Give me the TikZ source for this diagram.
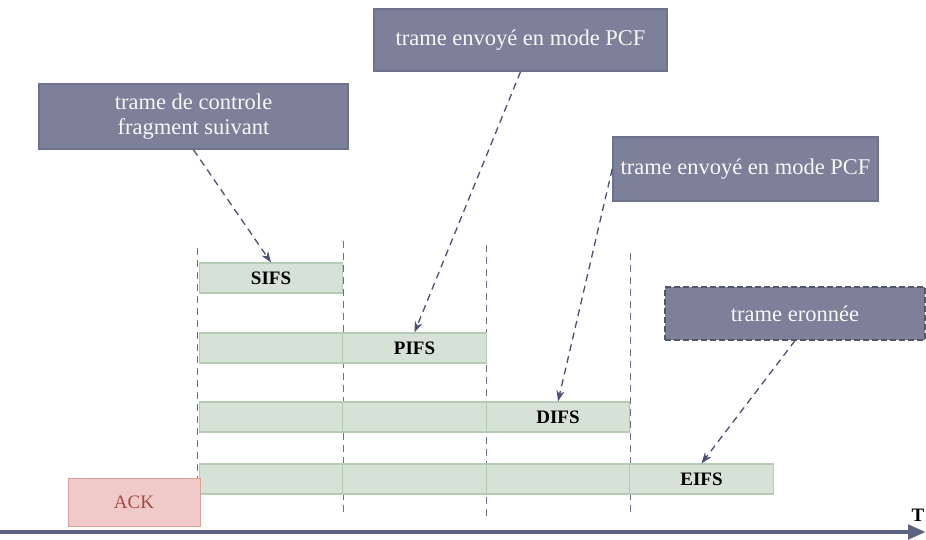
\documentclass[tikz,border=0pt]{standalone}
\usepackage{fontspec}
\setmainfont{Liberation Serif}
\usetikzlibrary{arrows.meta}

\definecolor{slateA}{HTML}{7C8098}
\definecolor{slateB}{HTML}{6E728C}
\definecolor{slateLine}{HTML}{4B5172}
\definecolor{greenA}{HTML}{D6E2D6}
\definecolor{greenLine}{HTML}{B4CCB3}
\definecolor{ackFill}{HTML}{EFCAC8}
\definecolor{ackEdge}{HTML}{DDA09A}
\definecolor{ackText}{HTML}{A14B40}
\definecolor{gridLine}{HTML}{6E7183}

\tikzset{
  note/.style={rectangle, inner sep=0pt, fill=slateA,
    draw=slateB, line width=1.6pt,
    text=white!94!slateA, align=center,
    font=\fontsize{22.5}{25}\selectfont},
  ifsbar/.style={rectangle, inner sep=0pt, minimum width=143.5pt, minimum height=30pt,
    fill=greenA, draw=greenLine, line width=1.2pt,
    font=\bfseries\fontsize{19}{21}\selectfont},
  pointer/.style={dashed, dash pattern=on 7pt off 5pt, line width=1.3pt, color=slateLine,
    -{Stealth[length=11pt,width=8pt]}},
  slot/.style={dashed, dash pattern=on 7pt off 5pt, line width=1pt, color=gridLine},
}

\begin{document}
\begin{tikzpicture}[x=1pt, y=-1pt]
\useasboundingbox (0,0) rectangle (926,539);

% slot boundaries (behind the bars)
\coordinate (v1t) at (197,248); \coordinate (v1b) at (197,527);
\coordinate (v2t) at (343,241); \coordinate (v2b) at (343,517);
\coordinate (v3t) at (486,245); \coordinate (v3b) at (486,520);
\coordinate (v4t) at (630,253); \coordinate (v4b) at (630,517);
\draw[slot] (v1t) -- (v1b);
\draw[slot] (v2t) -- (v2b);
\draw[slot] (v3t) -- (v3b);
\draw[slot] (v4t) -- (v4b);

% timing bars, one row per inter-frame space
\node[ifsbar] (s1) at (271,278) {SIFS};
\node[ifsbar] (p1) at (271,348) {};
\node[ifsbar] (pifs) at (414.5,348) {PIFS};
\node[ifsbar] (d1) at (271,417) {};
\node[ifsbar] (d2) at (414.5,417) {};
\node[ifsbar] (difs) at (558,417) {DIFS};
\node[ifsbar] (e1) at (271,479) {};
\node[ifsbar] (e2) at (414.5,479) {};
\node[ifsbar] (e3) at (558,479) {};
\node[ifsbar] (eifs) at (701.5,479) {EIFS};

% acknowledgement frame
\node[rectangle, inner sep=0pt, minimum width=132pt, minimum height=48pt,
  fill=ackFill, draw=ackEdge, line width=1pt, text=ackText,
  font=\fontsize{19}{21}\selectfont] (ack) at (134,502) {ACK};

% annotations
\node[note, minimum width=309pt, minimum height=65pt] (ctrl) at (193.5,116.5)
  {trame de controle\\fragment suivant};
\node[note, minimum width=293pt, minimum height=62pt] (pcfA) at (520.5,40)
  {trame envoyé en mode PCF};
\node[note, minimum width=265pt, minimum height=64pt] (pcfB) at (745.5,169)
  {trame envoyé en mode PCF};
\node[note, minimum width=260pt, minimum height=53pt, dashed,
  dash pattern=on 6pt off 3pt, draw=slateB!75!black, line width=1.2pt] (err) at (795,313.5)
  {trame eronnée};

\draw[pointer] (ctrl.south) -- (s1.north);
\draw[pointer] (pcfA.south) -- (pifs.north);
\draw[pointer] (pcfB.west) -- (difs.north);
\draw[pointer] (err.south) -- (eifs.north);

% time axis
\coordinate (t0) at (0,532);
\coordinate (t1) at (926,532);
\draw[line width=4.5pt, color=slateLine!90!white,
  -{Triangle[length=18pt,width=14pt]}] (t0) -- (t1);
\node[font=\bfseries\fontsize{19}{21}\selectfont, anchor=center] (T) at (918,515) {T};
\end{tikzpicture}
\end{document}
